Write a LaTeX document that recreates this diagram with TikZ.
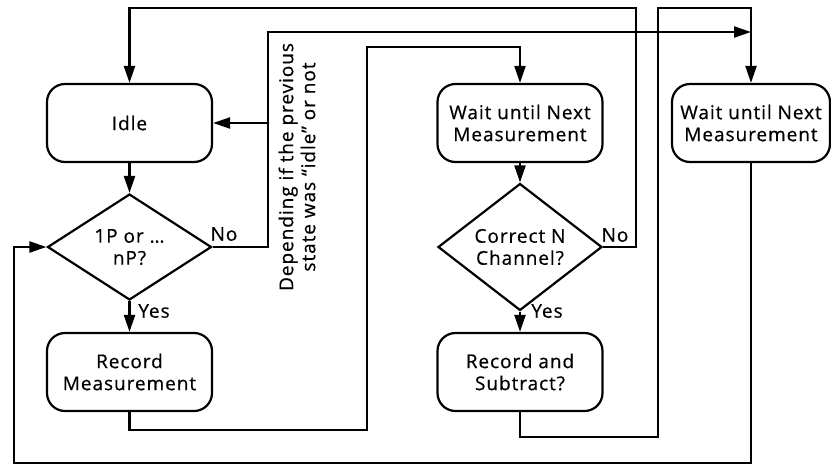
\documentclass[tikz,border=0pt]{standalone}
\usepackage{fontspec}
\setmainfont{Open Sans}[LetterSpace=5, FakeBold=0.6]
\usepackage{tikz}
\usetikzlibrary{shapes.geometric,arrows.meta}

\begin{document}
\begin{tikzpicture}[x=1pt, y=-1pt, line width=2.2pt,
        >={Triangle[length=17pt, width=11pt]},
        state/.style={draw, rounded corners=18pt, minimum width=165pt, minimum height=78pt, align=center, inner sep=0pt},
        decision/.style={draw, diamond, minimum width=164pt, minimum height=94pt, align=center, inner sep=0pt},
        every node/.append style={font=\fontsize{19}{22}\selectfont}]
        \useasboundingbox (0,0) rectangle (831,467);

        \node[state] (idle) at (129.5,123) {Idle};
        \node[decision] (choice) at (129.5,247) {1P or \dots\\nP?};
        \node[state] (record) at (129.5,372) {Record\\Measurement};
        \node[state] (wait) at (520,123) {Wait until Next\\Measurement};
        \node[decision] (check) at (520,247) {Correct N\\Channel?};
        \node[state] (subtract) at (520,372) {Record and\\Subtract?};
        \node[state, minimum width=158pt] (waitnext) at (751,123) {Wait until Next\\Measurement};

        \node (no1) at (224,234) {No};
        \node (yes1) at (154,311) {Yes};
        \node (no2) at (615,235) {No};
        \node (yes2) at (547,311) {Yes};
        \node[rotate=90, align=center] (note) at (297,167) {Depending if the previous\\state was “idle” or not};

        \coordinate (j1) at (268,32);
        \coordinate (j2) at (751,32);
        \coordinate (split) at (268,123);
        \coordinate (r1) at (367,430);
        \coordinate (r2) at (367,47);
        \coordinate (c1) at (636,8);
        \coordinate (s1) at (658,437);
        \coordinate (s2) at (658,8);
        \coordinate (b1) at (14,463);

        \draw[->] (idle) edge (choice);
        \draw[->] (choice) edge (record);
        \draw[->] (wait) edge (check);
        \draw[->] (check) edge (subtract);
        \draw[->] (choice.east) -| (j1) -- (j2);
        \draw[->] (split) -- (idle.east);
        \draw[->] (record.south) |- (r1) -- (r2) -| (wait.north);
        \draw[->] (check.east) -| (c1) -| (idle.north);
        \draw[->] (subtract.south) |- (s1) -- (s2) -| (waitnext.north);
        \draw[->] (waitnext.south) |- (b1) |- (choice.west);
    \end{tikzpicture}
\end{document}
